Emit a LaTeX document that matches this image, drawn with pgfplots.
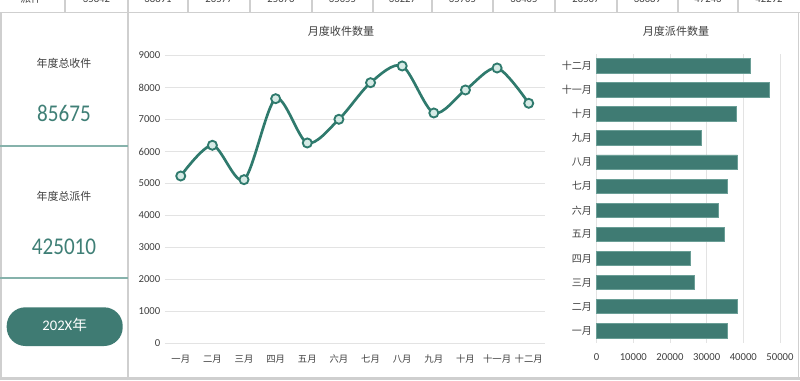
\documentclass[border=0pt]{standalone}
\usepackage{fontspec}
\setmainfont{Carlito}
\newfontfamily\cjk{Noto Sans CJK SC}
\usepackage{pgfplots}
\pgfplotsset{compat=1.18}
\definecolor{linec}{HTML}{2F7A6D}
\definecolor{markfill}{HTML}{D6EBE6}
\definecolor{barc}{HTML}{3F7B73}
\definecolor{baredge}{HTML}{6A9E96}
\definecolor{gridc}{HTML}{E3E3E3}
\definecolor{labc}{HTML}{404040}
\definecolor{framec}{HTML}{CFCFCF}
\definecolor{numc}{HTML}{3F7F76}
\definecolor{sepc}{HTML}{86B2AB}
\begin{document}
\begin{tikzpicture}[x=0.75pt,y=0.75pt]
\useasboundingbox (0,0) rectangle (800,380);
\clip (0,0) rectangle (800,380);
\fill[white] (0,0) rectangle (800,380);
% frame
\draw[framec, line width=0.8pt] (0,367.3) -- (800,367.3);
\foreach \xx in {65,128,188,250,312,373,432,493,555,617,678,738}{
  \draw[framec, line width=0.8pt] (\xx,367.3) -- (\xx,380);
}
\draw[framec, line width=0.8pt] (128,0) -- (128,367.3);
\draw[framec, line width=1pt] (1,0) -- (1,367.3);
\draw[framec, line width=1pt] (798.5,0) -- (798.5,367.3);
\fill[framec] (0,0) rectangle (800,3.5);
% top strip (cut off)
\foreach \xx/\tt in {96.5/35842,158/38891,219/26577,281/25676,342.5/35055,402.5/33227,462.5/35705,524/38405,586/28567,647.5/38089,708/47243,769/42292}{
  \node[anchor=base, inner sep=0pt, text=labc, font=\fontsize{8}{9}\selectfont] at (\xx,377.2) {\tt};
}
\node[anchor=base, inner sep=0pt, text=labc, font=\cjk\fontsize{8}{9}\selectfont] at (31,377.2) {派件};
% left panel
\node[text=labc, font=\cjk\fontsize{8.2}{9}\selectfont] at (64,316.7) {年度总收件};
\node[text=numc, xscale=0.88, font=\fontsize{18}{20}\selectfont] at (64,266.7) {85675};
\draw[sepc, line width=1.6pt] (0,234) -- (128,234);
\node[text=labc, font=\cjk\fontsize{8.2}{9}\selectfont] at (64,183.3) {年度总派件};
\node[text=numc, xscale=0.88, font=\fontsize{18}{20}\selectfont] at (64,133.3) {425010};
\draw[sepc, line width=1.6pt] (0,101.7) -- (128,101.7);
\fill[barc, rounded corners=14pt] (6.7,34) rectangle (122.7,72.7);
\node[text=white, font=\fontsize{11}{12}\selectfont] at (64.7,55) {202X\cjk 年};
% titles
\node[text=labc, font=\cjk\fontsize{8.3}{9}\selectfont] at (341,349) {月度收件数量};
\node[text=labc, font=\cjk\fontsize{8.3}{9}\selectfont] at (676,349) {月度派件数量};
% line chart
\begin{axis}[at={(123.7pt,27.4pt)}, anchor=south west, scale only axis,
  width=284.7pt, height=216pt,
  xmin=-0.5, xmax=11.5, ymin=0, ymax=9000,
  xtick={0,...,11},
  xticklabels={一月,二月,三月,四月,五月,六月,七月,八月,九月,十月,十一月,十二月},
  ytick={0,1000,...,9000},
  ymajorgrids, grid style={draw=gridc, line width=0.7pt},
  axis x line=bottom, axis y line=left, axis line style={draw=none},
  major tick length=0pt,
  scaled y ticks=false,
  xticklabel style={font=\cjk\fontsize{7}{8}\selectfont, text=labc, anchor=base, yshift=-14.4pt},
  yticklabel style={font=\fontsize{8}{9}\selectfont, text=labc},
  clip=false,
  /pgf/number format/.cd, 1000 sep={}, assume math mode=true]
\addplot[linec, line width=2pt, smooth, tension=0.5, mark=*, mark size=3.4pt,
  mark options={fill=markfill, draw=linec, line width=1.4pt}]
  coordinates {(0,5234)(1,6194)(2,5119)(3,7650)(4,6266)(5,7006)(6,8150)(7,8672)(8,7203)(9,7922)(10,8609)(11,7506)};
\end{axis}
% bar chart
\begin{axis}[at={(447.5pt,27.9pt)}, anchor=south west, scale only axis,
  width=137.5pt, height=216.8pt,
  xbar, bar width=10.8pt,
  xmin=0, xmax=50000, ymin=-0.5, ymax=11.5,
  ytick={0,...,11},
  yticklabels={一月,二月,三月,四月,五月,六月,七月,八月,九月,十月,十一月,十二月},
  xtick={0,10000,...,50000},
  xmajorgrids, grid style={draw=gridc, line width=0.7pt},
  axis x line=bottom, axis y line=left, axis line style={draw=none},
  major tick length=0pt,
  scaled x ticks=false,
  yticklabel style={font=\cjk\fontsize{7.5}{8}\selectfont, text=labc},
  xticklabel style={font=\fontsize{8}{9}\selectfont, text=labc, anchor=base, yshift=-13pt},
  clip=false,
  /pgf/number format/.cd, 1000 sep={}, assume math mode=true]
\addplot[fill=barc, draw=baredge, line width=0.6pt]
  coordinates {(35730,0)(38360,1)(26545,2)(25450,3)(34820,4)(33180,5)(35730,6)(38360,7)(28545,8)(38180,9)(47000,10)(42000,11)};
\end{axis}
\end{tikzpicture}
\end{document}
